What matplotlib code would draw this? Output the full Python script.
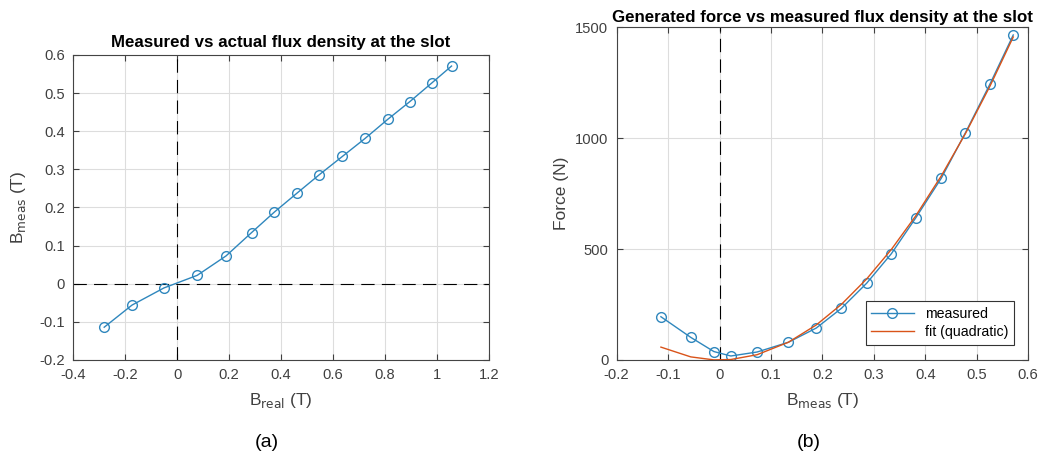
import numpy as np
import matplotlib
matplotlib.use('Agg')
import matplotlib.pyplot as plt
from matplotlib.ticker import FuncFormatter, MultipleLocator

plt.rcParams['font.family'] = ['Liberation Sans', 'DejaVu Sans']
plt.rcParams['axes.unicode_minus'] = False

# values
b_real = [-0.281, -0.174, -0.051, 0.077, 0.188, 0.286, 0.374, 0.460,
          0.547, 0.636, 0.723, 0.810, 0.896, 0.979, 1.056]
b_meas = [-0.114, -0.056, -0.011, 0.022, 0.073, 0.134, 0.188, 0.237,
          0.286, 0.334, 0.381, 0.431, 0.478, 0.526, 0.571]
force = [195, 102, 38, 18, 36, 80, 144, 233, 346, 479, 639, 819, 1024, 1245, 1465]

# quadratic fit F = a*B^2 (least squares on the measured points)
bm = np.array(b_meas)
fa = np.array(force)
coef = np.sum(fa * bm**2) / np.sum(bm**4)
fit = coef * bm**2

blue = '#2f87bd'
red = '#d95319'
tickcol = '#404040'
dash = (0, (12, 6.5))
fmt = FuncFormatter(lambda v, _: f'{v:g}')


def style(ax):
    ax.grid(True, color='#dddddd', linewidth=0.8)
    ax.set_axisbelow(True)
    ax.tick_params(direction='in', top=True, right=True, labelsize=10.6,
                   colors=tickcol, length=4, pad=6)
    for s in ax.spines.values():
        s.set_color('#444444')
        s.set_linewidth(0.8)
    ax.xaxis.set_major_formatter(fmt)
    ax.yaxis.set_major_formatter(fmt)


fig = plt.figure(figsize=(10.47, 4.59), dpi=100)

ax1 = fig.add_axes([0.070, 0.2157, 0.397, 0.6645])
ax1.axhline(0, color='k', ls=dash, lw=0.8)
ax1.axvline(0, color='k', ls=dash, lw=0.8)
ax1.plot(b_real, b_meas, '-o', color=blue, lw=1, ms=7, mfc='none', mew=1)
ax1.set_xlim(-0.4, 1.2)
ax1.set_ylim(-0.2, 0.6)
ax1.xaxis.set_major_locator(MultipleLocator(0.2))
ax1.yaxis.set_major_locator(MultipleLocator(0.1))
style(ax1)
ax1.set_title('Measured vs actual flux density at the slot', fontsize=12.2,
              fontweight='bold', pad=6)
ax1.set_xlabel(r'B$_{\mathrm{real}}$ (T)', fontsize=12.5, color=tickcol, labelpad=6)
ax1.set_ylabel(r'B$_{\mathrm{meas}}$ (T)', fontsize=12.5, color=tickcol, labelpad=8)

ax2 = fig.add_axes([0.589, 0.2157, 0.393, 0.725])
ax2.axvline(0, color='k', ls=dash, lw=0.8)
ax2.plot(b_meas, force, '-o', color=blue, lw=1, ms=7, mfc='none', mew=1,
         label='measured')
ax2.plot(b_meas, fit, '-', color=red, lw=1, label='fit (quadratic)')
ax2.set_xlim(-0.2, 0.6)
ax2.set_ylim(0, 1500)
ax2.xaxis.set_major_locator(MultipleLocator(0.1))
ax2.yaxis.set_major_locator(MultipleLocator(500))
style(ax2)
ax2.set_title('Generated force vs measured flux density at the slot',
              fontsize=12.2, fontweight='bold', pad=4)
ax2.set_xlabel(r'B$_{\mathrm{meas}}$ (T)', fontsize=12.5, color=tickcol, labelpad=6)
ax2.set_ylabel('Force (N)', fontsize=12.5, color=tickcol)
leg = ax2.legend(loc='lower right', bbox_to_anchor=(0.983, 0.024), fontsize=10.2,
                 fancybox=False, framealpha=1, edgecolor='#333333',
                 handlelength=3, borderpad=0.4, labelspacing=0.3)
leg.get_frame().set_linewidth(0.8)

fig.text(0.255, 0.037, '(a)', ha='center', va='center', fontsize=14)
fig.text(0.772, 0.037, '(b)', ha='center', va='center', fontsize=14)

fig.savefig('out.png', dpi=100)
